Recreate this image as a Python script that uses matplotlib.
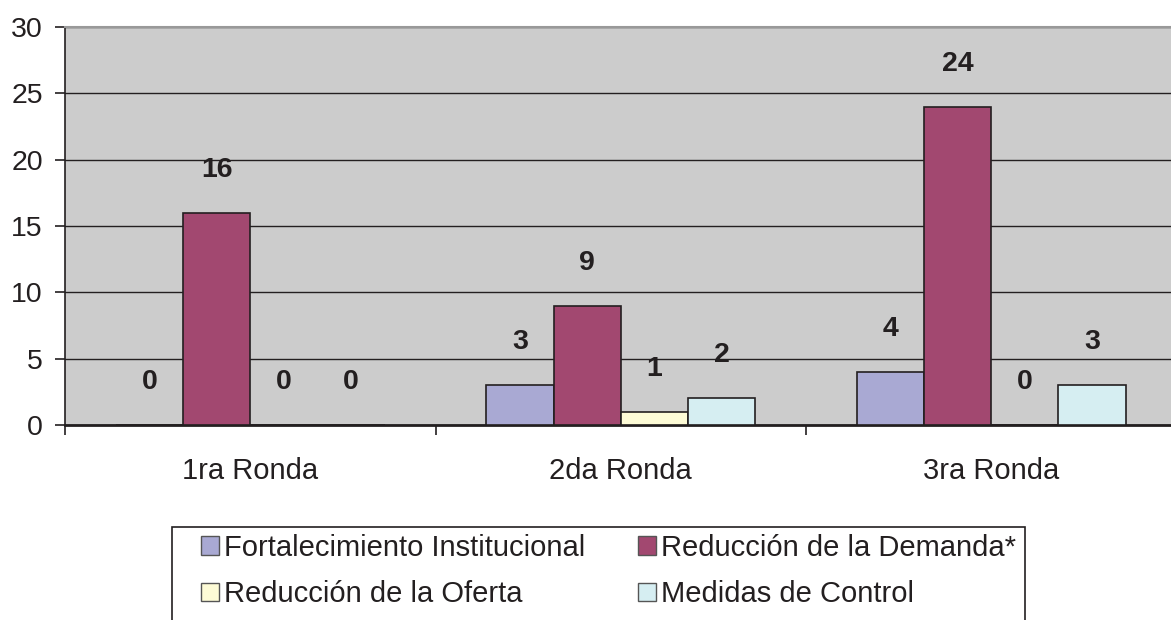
import matplotlib
matplotlib.use("Agg")
import matplotlib.pyplot as plt
from matplotlib.patches import Rectangle
import numpy as np

plt.rcParams['font.family'] = ['Liberation Sans', 'DejaVu Sans']

categories = ["1ra Ronda", "2da Ronda", "3ra Ronda"]
series_names = ["Fortalecimiento Institucional", "Reducción de la Demanda*",
                "Reducción de la Oferta", "Medidas de Control"]
fortalecimiento = [0, 3, 4]
demanda = [16, 9, 24]
oferta = [0, 1, 0]
control = [0, 2, 3]
series_values = [fortalecimiento, demanda, oferta, control]
colors = ["#A9A9D3", "#A24870", "#FDFBD6", "#D6EEF2"]
yticks = [0, 5, 10, 15, 20, 25, 30]

fig = plt.figure(figsize=(11.71, 6.20), dpi=100)
W, H = 1171, 620
left, right, top, bottom = 65, 1176.5, 27, 425
ax = fig.add_axes([left / W, 1 - bottom / H, (right - left) / W, (bottom - top) / H])
ax.set_facecolor("#CCCCCC")

x = np.arange(len(categories)) + 0.5
w = 67.2 / 370.5
offsets = [-1.5 * w, -0.5 * w, 0.5 * w, 1.5 * w]
handles = []
for vals, off, col, name in zip(series_values, offsets, colors, series_names):
    b = ax.bar(x + off, vals, width=w, color=col, edgecolor="#231F20",
               linewidth=1.2, label=name, zorder=3)
    handles.append(b)
    for xi, v in zip(x + off, vals):
        ax.annotate(str(v), (xi, v), xytext=(0, 31), textcoords="offset points",
                    ha="center", va="center", fontsize=20.5, fontweight="bold",
                    color="#231F20", zorder=4)

ax.set_xlim(0, 3)
ax.set_ylim(0, 30)
ax.set_yticks(yticks)
ax.set_yticklabels([str(t) for t in yticks], fontsize=20.5, color="#231F20")
ax.yaxis.grid(True, color="#231F20", linewidth=1.0, zorder=1)
ax.set_axisbelow(True)
ax.tick_params(axis="y", length=7, width=1.2, color="#231F20", pad=9)

ax.set_xticks([0, 1, 2, 3])
ax.set_xticklabels([])
ax.set_xticks(x, minor=True)
ax.set_xticklabels(categories, minor=True, fontsize=21, color="#231F20")
ax.tick_params(axis="x", which="major", length=7, width=1.2, color="#231F20")
ax.tick_params(axis="x", which="minor", length=0, pad=23)

ax.spines["left"].set_color("#231F20")
ax.spines["left"].set_linewidth(1.2)
ax.spines["bottom"].set_color("#231F20")
ax.spines["bottom"].set_linewidth(2.0)
ax.spines["top"].set_color("#999999")
ax.spines["top"].set_linewidth(1.5)
ax.spines["right"].set_visible(False)

# legend frame (bottom edge runs off the figure, as in the reference)
fig.add_artist(Rectangle((172 / W, -20 / H), (1025 - 172) / W, (620 + 20 - 527) / H,
                         transform=fig.transFigure, facecolor="white",
                         edgecolor="#231F20", linewidth=1.2, zorder=0))

order = [0, 2, 1, 3]
leg = fig.legend(handles=[handles[i] for i in order],
                 labels=[series_names[i] for i in order], ncol=2,
                 loc="upper left", bbox_to_anchor=(201 / W, 1 - 534 / H),
                 fontsize=21, frameon=False,
                 handlelength=0.6, handleheight=0.6, handletextpad=0.18,
                 columnspacing=1.82, labelspacing=0.63, borderpad=0.0,
                 borderaxespad=0)
for p in leg.legend_handles:
    p.set_edgecolor("#555555")
    p.set_linewidth(1.0)
for t in leg.get_texts():
    t.set_color("#231F20")

fig.savefig("out.png", dpi=100)
